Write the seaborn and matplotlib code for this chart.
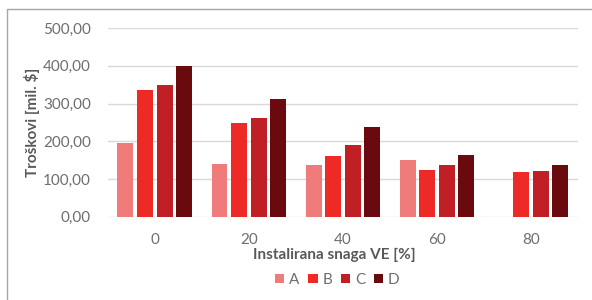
import numpy as np
import pandas as pd
import matplotlib.pyplot as plt
import seaborn as sns
from matplotlib.patches import Rectangle

# data
categories = ['0', '20', '40', '60', '80']
series = ['A', 'B', 'C', 'D']
a_vals = [195, 140, 136, 151, np.nan]
b_vals = [337, 248, 162, 124, 118]
c_vals = [348, 261, 191, 137, 122]
d_vals = [399, 312, 237, 164, 136]
colors = ['#F07B7B', '#EE2A27', '#C01F26', '#6B0A0E']
y_ticks = [0, 100, 200, 300, 400, 500]

df = pd.DataFrame({'VE': categories * 4,
                   'serija': [s for s in series for _ in categories],
                   'trosak': a_vals + b_vals + c_vals + d_vals})

sns.set_style('white')
plt.rcParams['font.family'] = ['Lato', 'DejaVu Sans']
gray = '#595959'

fig = plt.figure(figsize=(5.92, 3.0), dpi=100)
ax = fig.add_axes([0.182, 0.278, 0.794, 0.628])

sns.barplot(data=df, x='VE', y='trosak', hue='serija', palette=colors,
            order=categories, hue_order=series, width=0.83, gap=0.18,
            saturation=1, linewidth=0, ax=ax, legend=True)

ax.set_ylim(0, 500)
ax.set_yticks(y_ticks)
ax.set_yticklabels([f'{v},00' for v in y_ticks])
ax.yaxis.grid(True, color='#D9D9D9', linewidth=1)
ax.set_axisbelow(True)
for s in ax.spines.values():
    s.set_visible(False)
ax.tick_params(axis='both', length=0, labelsize=11, labelcolor='#6E6E6E')
ax.tick_params(axis='y', pad=12)
ax.tick_params(axis='x', pad=12)

ax.set_ylabel('Troškovi [mil. $]', fontsize=11, fontweight='bold', color=gray, labelpad=2)
ax.set_xlabel('Instalirana snaga VE [%]', fontsize=11, fontweight='bold', color=gray)
ax.xaxis.set_label_coords(0.483, -0.165)

handles, labels = ax.get_legend_handles_labels()
ax.legend(handles, labels, loc='center', bbox_to_anchor=(0.57, 0.067),
          bbox_transform=fig.transFigure, ncol=4, frameon=False,
          handlelength=0.6, handleheight=0.6, handletextpad=0.3,
          columnspacing=0.6, labelcolor='#6E6E6E', fontsize=11)

fig.patches.append(Rectangle((0.012, -0.1), 1.1, 1.07, transform=fig.transFigure,
                             fill=False, edgecolor='#A6A6A6', linewidth=1))

fig.savefig('out.png', dpi=100)
